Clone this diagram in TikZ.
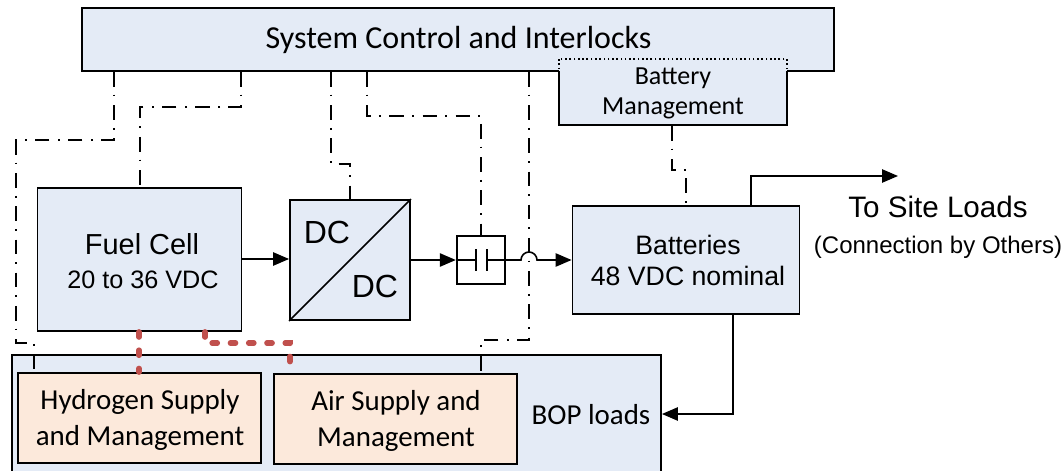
\documentclass[tikz,border=0pt]{standalone}
\usepackage{fontspec}
\setmainfont{Carlito}
\newfontfamily\arialf{Liberation Sans}
\usetikzlibrary{arrows.meta,calc}
\definecolor{boxblue}{HTML}{E4EBF6}
\definecolor{boxorange}{HTML}{FCE9DB}
\definecolor{linkred}{HTML}{C0504D}
\tikzset{
  box/.style={draw=black,line width=1.4pt,fill=boxblue,inner sep=0pt,text=black},
  orangebox/.style={box,fill=boxorange},
  label/.style={align=center,inner sep=0pt,text=black},
  wire/.style={line width=1.2pt,-{Triangle[length=12pt,width=10pt]}},
  plainwire/.style={line width=1.2pt},
  ctrl/.style={line width=1pt,dash pattern=on 11pt off 6pt on 1.4pt off 6.5pt},
  fuelink/.style={draw=linkred,line width=4.2pt,line cap=round,dash pattern=on 3.8pt off 9.9pt},
  sized/.style n args={2}{minimum width=#1*0.75pt,minimum height=#2*0.75pt},
}
\begin{document}
\begin{tikzpicture}[x=0.75pt,y=-0.75pt]
\useasboundingbox (0,0) rectangle (1064,471);
\fill[white] (0,0) rectangle (1064,471);
% boxes
\node[box,sized={752}{63}] (sys) at (458,39.5) {};
\node[label,font=\fontsize{24}{28}\selectfont] (systext) at (458.5,40) {System Control and Interlocks};
\node[box,sized={228}{66},draw=none] (bmfill) at (673,92) {};
\node[label,font=\fontsize{19.5}{23}\selectfont] (bm) at (673,93.5) {Battery\\Management};
\draw[line width=1.2pt,dotted] (559,59) rectangle (787,125);
\draw[line width=1.3pt] (559,71) -- (559,125) -- (787,125) -- (787,71);
\node[box,sized={204}{143}] (fc) at (139.5,259.5) {};
\node[label,font=\arialf\fontsize{21.7}{26}\selectfont] (fct) at (142,244) {Fuel Cell};
\node[label,font=\arialf\fontsize{18.9}{22}\selectfont] (fcv) at (143,280) {20 to 36 VDC};
\node[box,sized={120}{120}] (dc) at (350,260) {};
\draw[line width=1.2pt] (dc.south west) -- (dc.north east);
\node[label,font=\arialf\fontsize{24}{28}\selectfont] (dc1) at (327,232) {DC};
\node[label,font=\arialf\fontsize{24}{28}\selectfont] (dc2) at (375,286) {DC};
\node[draw=black,fill=white,line width=1.8pt,inner sep=0pt,sized={48}{48}] (cap) at (481,260) {};
\node[box,sized={227}{108}] (bat) at (686,260) {};
\node[label,font=\arialf\fontsize{20}{24}\selectfont] (batt) at (688,245) {Batteries};
\node[label,font=\arialf\fontsize{20}{24}\selectfont] (batv) at (688,276) {48 VDC nominal};
\node[box,sized={649}{125}] (bop) at (336.5,417.5) {};
\node[label,font=\fontsize{21.7}{26}\selectfont] (boptext) at (591,415) {BOP loads};
\node[orangebox,sized={243}{90}] (h2) at (139.5,418) {};
\node[label,font=\fontsize{21.7}{26.5}\selectfont] (h2t) at (140,420) {Hydrogen Supply\\and Management};
\node[orangebox,sized={243}{90}] (air) at (395.5,419) {};
\node[label,font=\fontsize{21.7}{27}\selectfont] (airt) at (396,421) {Air Supply and\\Management};
% free text
\node[label,font=\arialf\fontsize{22.2}{26}\selectfont] (site) at (938,207) {To Site Loads};
\node[label,font=\arialf\fontsize{18}{22}\selectfont] (others) at (938,247) {(Connection by Others)};
% capacitor
\coordinate (pa) at (476,260);
\coordinate (pb) at (487,260);
\draw[plainwire] (cap.west) -- (pa);
\draw[plainwire] (pb) -- (cap.east);
\draw[line width=1.7pt] (476,249) -- (476,271);
\draw[line width=1.7pt] (487,249) -- (487,271);
% control lines
\draw[ctrl] (114,0 |- sys.south) -- (114,140) -- (16,140) -- (16,343) -- (34,343) -- (34,0 |- h2.north);
\draw[ctrl] (241,0 |- sys.south) -- (241,107) -- (140,107) -- (140,0 |- fc.north);
\draw[ctrl] (331,0 |- sys.south) -- (331,164) -- (350,164) -- (dc.north);
\draw[ctrl] (367,0 |- sys.south) -- (367,116) -- (481,116) -- (cap.north);
\draw[ctrl] (529,0 |- sys.south) -- (529,340) -- (481,340) -- (481,0 |- air.north);
\draw[ctrl] (672,0 |- bmfill.south) -- (672,170) -- (686,170) -- (bat.north);
% power lines
\draw[wire] (fc.east |- 0,259) -- (dc.west |- 0,259);
\draw[wire] (dc.east) -- (cap.west);
\draw[wire] (cap.east) -- (521,260) arc[start angle=180,end angle=360,radius=8] -- (bat.west);
\draw[wire] (751,0 |- bat.north) -- (751,176) -- (898,176);
\draw[wire] (733,0 |- bat.south) -- (733,414) -- (bop.east |- 0,414);
% fuel links
\draw[fuelink] (139,0 |- fc.south) -- (139,0 |- h2.north);
\draw[fuelink] (205,0 |- fc.south) -- (205,343) -- (290,343) -- (290,0 |- air.north);
\end{tikzpicture}
\end{document}
